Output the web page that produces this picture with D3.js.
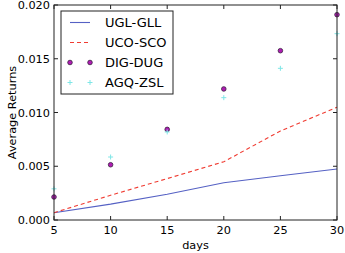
<!DOCTYPE html>
<html>
<head>
<meta charset="utf-8">
<script src="https://cdn.jsdelivr.net/npm/d3@7"></script>
<style>
  body { margin: 0; background: #fff; }
  text { font-family: "DejaVu Sans", sans-serif; fill: #000; }
</style>
</head>
<body>
<div id="chart"></div>
<script>
// data
const days     = [5, 10, 15, 20, 25, 30];
const uglGll   = [0.00068, 0.00148, 0.0024, 0.00347, 0.00412, 0.00474];
const ucoSco   = [0.00068, 0.0023, 0.00385, 0.00542, 0.00828, 0.01049];
const digDug   = [0.00214, 0.00514, 0.00843, 0.01219, 0.01575, 0.0191];
const agqZsl   = [0.0029, 0.00586, 0.00819, 0.01138, 0.01411, 0.01733];
const xTicks   = [5, 10, 15, 20, 25, 30];
const yTicks   = [0, 0.005, 0.01, 0.015, 0.02];

const W = 345, H = 253;
const m = { left: 54, right: 8, top: 5, bottom: 33 };
const plotW = W - m.left - m.right;
const plotH = H - m.top - m.bottom;

const svg = d3.select("#chart").append("svg")
  .attr("width", W).attr("height", H);

const g = svg.append("g").attr("transform", `translate(${m.left},${m.top})`);

const x = d3.scaleLinear().domain([5, 30]).range([0, plotW]);
const y = d3.scaleLinear().domain([0, 0.02]).range([plotH, 0]);

const blue = "#5561c4";
const red  = "#f03c32";

// lines
const line = vals => d3.line()
  .x((d, i) => x(days[i]))
  .y(d => y(d))(vals);

g.append("path")
  .attr("d", line(uglGll))
  .attr("fill", "none")
  .attr("stroke", blue)
  .attr("stroke-width", 1.1);

g.append("path")
  .attr("d", line(ucoSco))
  .attr("fill", "none")
  .attr("stroke", red)
  .attr("stroke-width", 1.1)
  .attr("stroke-dasharray", "4 3");

// markers
g.selectAll("circle.dig")
  .data(digDug)
  .join("circle")
  .attr("class", "dig")
  .attr("cx", (d, i) => x(days[i]))
  .attr("cy", d => y(d))
  .attr("r", 2.3)
  .attr("fill", "#b01cb4")
  .attr("stroke", "#3a2040")
  .attr("stroke-width", 0.8);

const plus = (sel, s) => sel.append("path")
  .attr("d", `M${-s},0H${s}M0,${-s}V${s}`)
  .attr("stroke", "#7fe6e6")
  .attr("stroke-width", 1)
  .attr("fill", "none");

agqZsl.forEach((v, i) => {
  const p = g.append("g").attr("transform", `translate(${x(days[i])},${y(v)})`);
  plus(p, 2.5);
});

// frame
g.append("rect")
  .attr("width", plotW).attr("height", plotH)
  .attr("fill", "none")
  .attr("stroke", "#222")
  .attr("stroke-width", 1);

// inward ticks on all four sides
const tl = 4;
xTicks.forEach(t => {
  g.append("line").attr("x1", x(t)).attr("x2", x(t)).attr("y1", plotH).attr("y2", plotH - tl).attr("stroke", "#222");
  g.append("line").attr("x1", x(t)).attr("x2", x(t)).attr("y1", 0).attr("y2", tl).attr("stroke", "#222");
  g.append("text")
    .attr("x", x(t)).attr("y", plotH + 14)
    .attr("text-anchor", "middle")
    .attr("font-size", 11.3)
    .text(t);
});
yTicks.forEach(t => {
  g.append("line").attr("x1", 0).attr("x2", tl).attr("y1", y(t)).attr("y2", y(t)).attr("stroke", "#222");
  g.append("line").attr("x1", plotW).attr("x2", plotW - tl).attr("y1", y(t)).attr("y2", y(t)).attr("stroke", "#222");
  g.append("text")
    .attr("x", -4).attr("y", y(t))
    .attr("dy", "0.36em")
    .attr("text-anchor", "end")
    .attr("font-size", 11.3)
    .text(d3.format(".3f")(t));
});

// axis labels
svg.append("text")
  .attr("x", m.left + plotW / 2).attr("y", 249)
  .attr("text-anchor", "middle")
  .attr("font-size", 11.3)
  .text("days");

svg.append("text")
  .attr("transform", `translate(16,${m.top + plotH / 2}) rotate(-90)`)
  .attr("text-anchor", "middle")
  .attr("font-size", 11.3)
  .text("Average Returns");

// legend
const lg = svg.append("g").attr("transform", "translate(61,11)");
lg.append("rect")
  .attr("width", 112).attr("height", 83)
  .attr("fill", "#fff")
  .attr("stroke", "#222")
  .attr("stroke-width", 1);

const names = ["UGL-GLL", "UCO-SCO", "DIG-DUG", "AGQ-ZSL"];
names.forEach((nm, i) => {
  const yy = 11.5 + i * 20;
  if (i === 0 || i === 1) {
    lg.append("line")
      .attr("x1", 9).attr("x2", 29).attr("y1", yy).attr("y2", yy)
      .attr("stroke", i === 0 ? blue : red)
      .attr("stroke-width", 1.1)
      .attr("stroke-dasharray", i === 1 ? "4 3" : null);
  } else if (i === 2) {
    [9, 29].forEach(cx => lg.append("circle")
      .attr("cx", cx).attr("cy", yy).attr("r", 2.3)
      .attr("fill", "#b01cb4").attr("stroke", "#3a2040").attr("stroke-width", 0.8));
  } else {
    [9, 29].forEach(cx => plus(lg.append("g").attr("transform", `translate(${cx},${yy})`), 2.5));
  }
  lg.append("text")
    .attr("x", 44).attr("y", yy)
    .attr("dy", "0.36em")
    .attr("font-size", 13)
    .text(nm);
});
</script>
</body>
</html>
